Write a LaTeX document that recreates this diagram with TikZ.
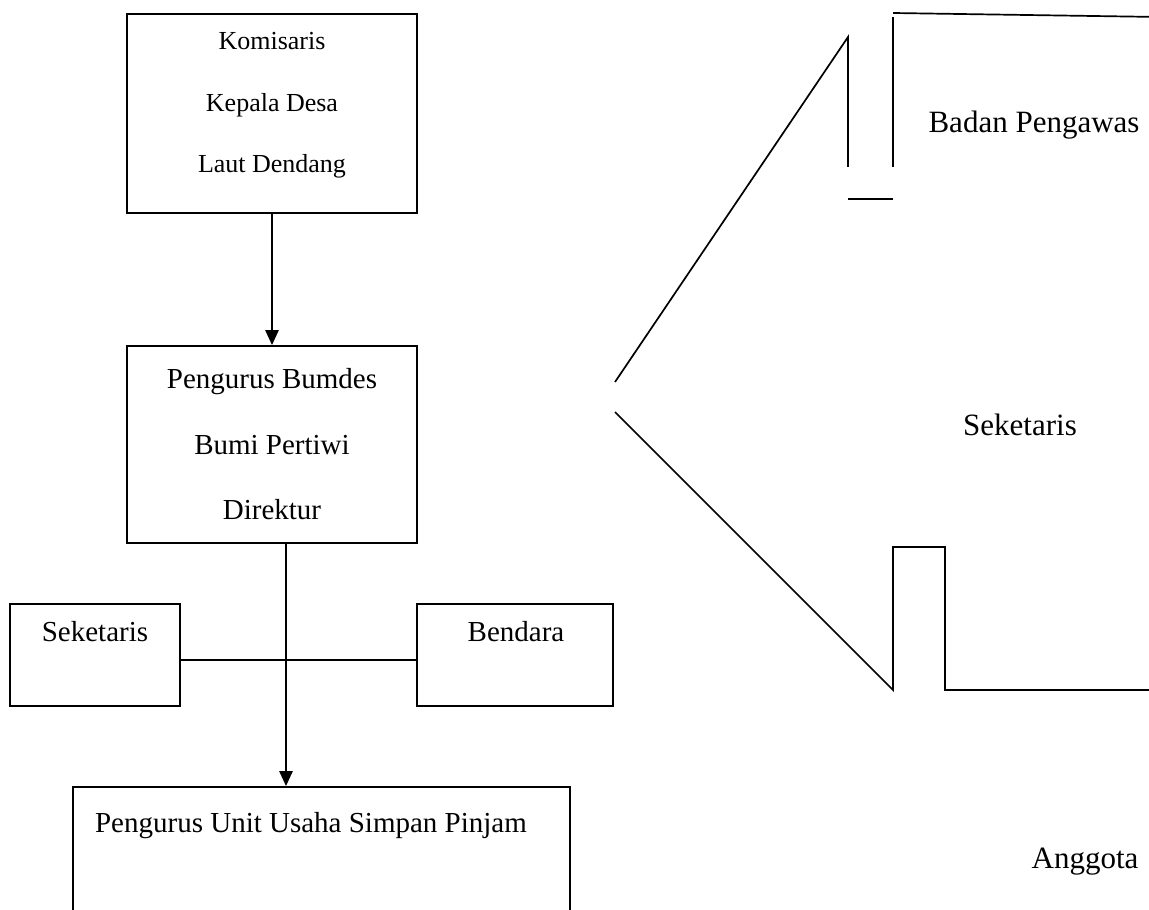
\documentclass[tikz,border=0pt]{standalone}
\usepackage{fontspec}
\setmainfont{Liberation Serif}
\usetikzlibrary{arrows.meta, positioning}

\begin{document}
\begin{tikzpicture}[
    x=0.5pt, y=-0.5pt,
    box/.style={rectangle, draw=black, line width=0.85pt, inner sep=0pt, align=center},
    txt/.style={inner sep=0pt, font=\fontsize{14.5}{16}\selectfont},
    bigtxt/.style={inner sep=0pt, font=\fontsize{15.5}{17}\selectfont},
    link/.style={line width=0.85pt},
    arrow/.style={line width=1.25pt, -{Triangle[width=6.5pt,length=7.5pt]}}
]
    \useasboundingbox (0,0) rectangle (1149,909);

    % left chart
    \node[box, minimum width=145pt, minimum height=99.5pt, font=\fontsize{13}{30.75}\selectfont] (komisaris) at (272,113.5) {Komisaris\\Kepala Desa\\Laut Dendang\rule[-11pt]{0pt}{0pt}};
    \node[box, minimum width=145pt, minimum height=98.5pt, font=\fontsize{14.5}{32.75}\selectfont] (pengurus) at (272,444.5) {Pengurus Bumdes\\Bumi Pertiwi\\Direktur};
    \node[box, minimum width=85pt, minimum height=51pt] (seketaris) at (95,655) {};
    \node[box, minimum width=98pt, minimum height=51pt] (bendara) at (515,655) {};
    \node[box, minimum width=248.5pt, minimum height=100pt] (unit) at (321.5,887) {};

    \node[txt] (seketarisText) at (95,632) {Seketaris};
    \node[txt] (bendaraText) at (516,632) {Bendara};
    \node[txt] (unitText) at (311,826) {Pengurus Unit Usaha Simpan Pinjam};

    \draw[arrow] (komisaris) -- (pengurus);
    \draw[link] ([yshift=-2.5pt]seketaris.east) -- ([yshift=-2.5pt]bendara.west);
    \draw[arrow] ([xshift=7pt]pengurus.south) -- ([xshift=7pt]pengurus.south |- unit.north);

    % right side
    \node[bigtxt] (pengawas) at (1034,125) {Badan Pengawas};
    \node[bigtxt] (seketarisKanan) at (1020,425) {Seketaris};
    \node[bigtxt] (anggota) at (1085,862) {Anggota};

    \draw[link] (615,382) -- (848,37) -- (848,167);
    \draw[link] (848,199) -- (893,199);
    \draw[link] (893,167) -- (893,17);
    \draw[link] (893,13) -- (1160,17);
    \draw[link] (615,412) -- (893,690) -- (893,547) -- (945,547) -- (945,690) -- (1160,690);
\end{tikzpicture}
\end{document}
